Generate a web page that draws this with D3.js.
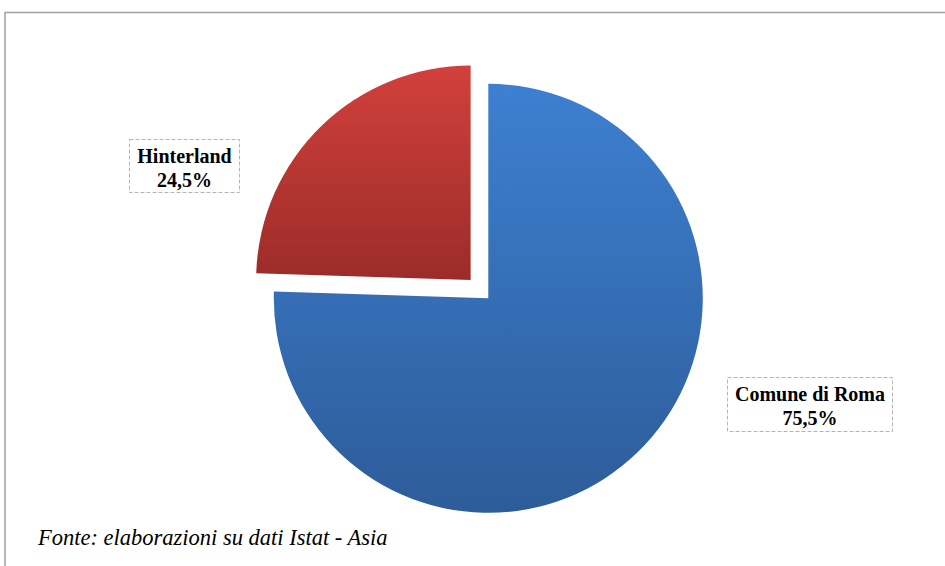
<!DOCTYPE html>
<html><head><meta charset="utf-8">
<script src="https://cdn.jsdelivr.net/npm/d3@7"></script>
<style>html,body{margin:0;padding:0;background:#fff;overflow:hidden}</style>
</head><body>
<script>
const categories = ["Comune di Roma", "Hinterland"];
const values = [75.5, 24.5];
const valueLabels = ["75,5%", "24,5%"];
const source = "Fonte: elaborazioni su dati Istat - Asia";

const W = 945, H = 566;
const svg = d3.select("body").append("svg").attr("width", W).attr("height", H);

// outer frame
svg.append("path").attr("d", `M5,${H+5} L5,12.5 L${W+5},12.5`)
  .attr("fill", "none").attr("stroke", "#a0a0a0").attr("stroke-width", 1.5);

const defs = svg.append("defs");
const grads = [
  {id: "gBlue", top: "#3d80d1", bot: "#2d5c99"},
  {id: "gRed", top: "#d2403c", bot: "#9b2c29"}
];
grads.forEach(g => {
  const lg = defs.append("linearGradient").attr("id", g.id)
    .attr("x1", 0).attr("y1", 0).attr("x2", 0).attr("y2", 1);
  lg.append("stop").attr("offset", "0%").attr("stop-color", g.top);
  lg.append("stop").attr("offset", "100%").attr("stop-color", g.bot);
});

const cx = 488.3, cy = 298.3, r = 214.5;
const explode = [0, 25.4];
const pie = d3.pie().sort(null).value(d => d);
const arcs = pie(values);
const arc = d3.arc().innerRadius(0).outerRadius(r);

const g = svg.append("g").attr("transform", `translate(${cx},${cy})`);
g.selectAll("path").data(arcs).join("path")
  .attr("d", arc)
  .attr("fill", (d, i) => `url(#${grads[i].id})`)
  .attr("transform", (d, i) => {
    const a = (d.startAngle + d.endAngle) / 2;
    return `translate(${explode[i] * Math.sin(a)},${-explode[i] * Math.cos(a)})`;
  });

// labels
const labelBoxes = [
  {x: 727.5, y: 377.5, w: 165, h: 54},
  {x: 129.5, y: 139.5, w: 110, h: 53}
];
labelBoxes.forEach((b, i) => {
  svg.append("rect").attr("x", b.x).attr("y", b.y).attr("width", b.w).attr("height", b.h)
    .attr("fill", "#fff").attr("stroke", "#b4b4b4").attr("stroke-width", 1)
    .attr("stroke-dasharray", "4,2");
  const t = svg.append("text").attr("text-anchor", "middle")
    .attr("font-family", "'Liberation Serif','Times New Roman',serif")
    .attr("font-weight", "bold").attr("font-size", 20).attr("fill", "#000");
  t.append("tspan").attr("x", b.x + b.w / 2).attr("y", b.y + 23).text(categories[i]);
  t.append("tspan").attr("x", b.x + b.w / 2).attr("y", b.y + 47).text(valueLabels[i]);
});

svg.append("text").attr("x", 38).attr("y", 545)
  .attr("font-family", "'Liberation Serif','Times New Roman',serif")
  .attr("font-style", "italic").attr("font-size", 22.5).attr("fill", "#000")
  .text(source);
</script>
</body></html>
